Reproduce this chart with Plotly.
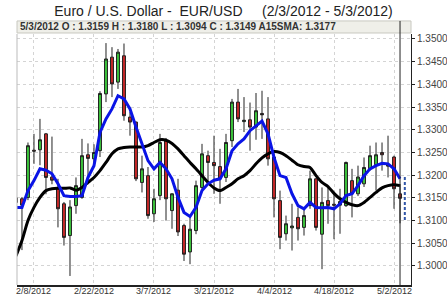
import plotly.graph_objects as go

dates = ["2/3/2012","2/6/2012","2/7/2012","2/8/2012","2/9/2012","2/10/2012",
 "2/13/2012","2/14/2012","2/15/2012","2/16/2012","2/17/2012",
 "2/20/2012","2/21/2012","2/22/2012","2/23/2012","2/24/2012",
 "2/27/2012","2/28/2012","2/29/2012","3/1/2012","3/2/2012",
 "3/5/2012","3/6/2012","3/7/2012","3/8/2012","3/9/2012",
 "3/12/2012","3/13/2012","3/14/2012","3/15/2012","3/16/2012",
 "3/19/2012","3/20/2012","3/21/2012","3/22/2012","3/23/2012",
 "3/26/2012","3/27/2012","3/28/2012","3/29/2012","3/30/2012",
 "4/2/2012","4/3/2012","4/4/2012","4/5/2012","4/6/2012",
 "4/9/2012","4/10/2012","4/11/2012","4/12/2012","4/13/2012",
 "4/16/2012","4/17/2012","4/18/2012","4/19/2012","4/20/2012",
 "4/23/2012","4/24/2012","4/25/2012","4/26/2012","4/27/2012",
 "4/30/2012","5/1/2012","5/2/2012","5/3/2012"]

open_ = [1.3150,1.3148,1.3151,1.3255,1.3256,1.3291,
         1.3196,1.3173,1.3137,1.3067,1.3133,
         1.3151,1.3245,1.3236,1.3254,1.3379,
         1.3460,1.3405,1.3463,1.3328,1.3317,
         1.3184,1.3199,1.3115,1.3155,1.3276,
         1.3122,1.3167,1.3089,1.3031,1.3078,
         1.3173,1.3243,1.3228,1.3219,1.3195,
         1.3276,1.3361,1.3318,1.3322,1.3306,
         1.3336,1.3324,1.3240,1.3144,1.3071,
         1.3084,1.3107,1.3085,1.3133,1.3192,
         1.3070,1.3144,1.3136,1.3134,1.3133,
         1.3188,1.3159,1.3181,1.3214,1.3223,
         1.3250,1.3223,1.3240,1.3159]
high = [1.3210,1.3152,1.3272,1.3291,1.3324,1.3293,
        1.3285,1.3192,1.3141,1.3145,1.3195,
        1.3280,1.3270,1.3268,1.3385,1.3491,
        1.3482,1.3478,1.3490,1.3339,1.3318,
        1.3243,1.3218,1.3170,1.3291,1.3282,
        1.3160,1.3192,1.3093,1.3111,1.3188,
        1.3269,1.3254,1.3287,1.3258,1.3291,
        1.3368,1.3390,1.3372,1.3360,1.3381,
        1.3386,1.3372,1.3250,1.3166,1.3111,
        1.3137,1.3129,1.3129,1.3210,1.3193,
        1.3173,1.3174,1.3160,1.3170,1.3230,
        1.3214,1.3221,1.3239,1.3265,1.3272,
        1.3272,1.3287,1.3243,1.3180]
low = [1.3075,1.3035,1.3145,1.3225,1.3222,1.3158,
       1.3180,1.3085,1.3045,1.2978,1.3115,
       1.3148,1.3180,1.3225,1.3240,1.3361,
       1.3372,1.3390,1.3320,1.3287,1.3187,
       1.3162,1.3104,1.3097,1.3145,1.3100,
       1.3082,1.3066,1.3011,1.3004,1.3070,
       1.3166,1.3184,1.3159,1.3137,1.3185,
       1.3262,1.3317,1.3295,1.3254,1.3278,
       1.3280,1.3221,1.3107,1.3037,1.3056,
       1.3034,1.3056,1.3067,1.3126,1.3078,
       1.2993,1.3093,1.3059,1.3071,1.3130,
       1.3107,1.3154,1.3174,1.3210,1.3166,
       1.3210,1.3195,1.3126,1.3094]
close = [1.3140,1.3134,1.3265,1.3253,1.3278,1.3195,
         1.3189,1.3126,1.3063,1.3130,1.3177,
         1.3243,1.3237,1.3250,1.3380,1.3456,
         1.3401,1.3471,1.3331,1.3317,1.3192,
         1.3214,1.3111,1.3148,1.3272,1.3148,
         1.3159,1.3075,1.3026,1.3081,1.3177,
         1.3247,1.3228,1.3221,1.3192,1.3272,
         1.3361,1.3324,1.3321,1.3306,1.3342,
         1.3333,1.3236,1.3148,1.3063,1.3093,
         1.3088,1.3082,1.3111,1.3192,1.3085,
         1.3140,1.3133,1.3134,1.3142,1.3228,
         1.3159,1.3196,1.3217,1.3243,1.3245,
         1.3245,1.3220,1.3170,1.3149]

blue_ma = [1.3129,1.3129,1.3166,1.3188,1.3214,1.3211,
           1.3203,1.3181,1.3155,1.3153,1.3153,
           1.3155,1.3195,1.3221,1.3294,1.3324,
           1.3346,1.3375,1.3368,1.3346,1.3306,
           1.3269,1.3232,1.3214,1.3228,1.3214,
           1.3192,1.3151,1.3118,1.3109,1.3129,
           1.3166,1.3181,1.3189,1.3192,1.3214,
           1.3254,1.3269,1.3280,1.3298,1.3309,
           1.3319,1.3291,1.3239,1.3199,1.3195,
           1.3159,1.3133,1.3126,1.3140,1.3129,
           1.3128,1.3129,1.3126,1.3137,1.3155,
           1.3159,1.3177,1.3199,1.3214,1.3221,
           1.3226,1.3225,1.3214,1.3192]
sma15 = [1.3022,1.3056,1.3100,1.3129,1.3151,1.3166,
         1.3170,1.3171,1.3171,1.3172,1.3167,
         1.3173,1.3184,1.3195,1.3210,1.3228,
         1.3247,1.3258,1.3261,1.3262,1.3262,
         1.3262,1.3265,1.3272,1.3278,1.3277,
         1.3270,1.3258,1.3243,1.3228,1.3214,
         1.3199,1.3184,1.3172,1.3166,1.3173,
         1.3181,1.3192,1.3199,1.3210,1.3225,
         1.3238,1.3247,1.3252,1.3250,1.3243,
         1.3233,1.3223,1.3219,1.3217,1.3199,
         1.3184,1.3175,1.3160,1.3148,1.3140,
         1.3135,1.3133,1.3140,1.3151,1.3162,
         1.3172,1.3177,1.3179,1.3177]

x_labels = ["2/8/2012","2/22/2012","3/7/2012","3/21/2012","4/4/2012","4/18/2012","5/2/2012"]
y_ticks = [1.3000,1.3050,1.3100,1.3150,1.3200,1.3250,1.3300,1.3350,1.3400,1.3450,1.3500]
last_range = [1.3196, 1.3099]

xs = list(range(len(dates)))
xtick_pos = [dates.index(d) for d in x_labels]
last = len(dates) - 1

fig = go.Figure()
fig.add_trace(go.Candlestick(
    x=xs, open=open_, high=high, low=low, close=close,
    increasing=dict(fillcolor="#3cc43c", line=dict(color="#222222", width=1)),
    decreasing=dict(fillcolor="#c62828", line=dict(color="#222222", width=1)),
    whiskerwidth=0, showlegend=False, hoverinfo="skip"))
fig.add_trace(go.Scatter(x=xs, y=sma15, mode="lines",
    line=dict(color="#000000", width=3, shape="spline", smoothing=0.6),
    showlegend=False, hoverinfo="skip"))
fig.add_trace(go.Scatter(x=xs, y=blue_ma, mode="lines",
    line=dict(color="#0a14e6", width=3),
    showlegend=False, hoverinfo="skip"))
fig.add_trace(go.Scatter(x=[last + 0.8, last + 0.8], y=last_range, mode="lines",
    line=dict(color="#2f55a8", width=2, dash="3px,2px"),
    showlegend=False, hoverinfo="skip"))

hdr = (f"<b>{dates[last]} O : {open_[last]:.4f} H : {high[last]:.4f} "
       f"L : {low[last]:.4f} C : {close[last]:.4f} A15SMA: {sma15[last]:.4f}</b>")

annots = [dict(text=hdr, xref="paper", yref="paper", x=0.003, y=1.028,
               xanchor="left", yanchor="middle", showarrow=False,
               font=dict(size=10, color="#333333"))]
for pos, lab in zip(xtick_pos, x_labels):
    annots.append(dict(text=lab, xref="x", yref="paper", x=pos, y=-11.5 / 251,
                       xanchor="center", yanchor="bottom", showarrow=False,
                       font=dict(size=9, color="#333333"), borderpad=0))

fig.update_layout(
    width=447, height=297,
    margin=dict(l=17, r=36, t=34, b=12, autoexpand=False),
    paper_bgcolor="white", plot_bgcolor="white",
    font=dict(family="Liberation Sans, Arial, sans-serif", color="#333333", size=10),
    title=dict(text="Euro / U.S. Dollar -&nbsp;&nbsp;EUR/USD&nbsp;&nbsp;&nbsp;&nbsp;&nbsp;(2/3/2012 - 5/3/2012)",
               x=0.5, xanchor="center", y=1 - 11 / 297, yanchor="middle",
               font=dict(size=14, color="#222222")),
    xaxis=dict(range=[0.17, 65.83], tickmode="array", tickvals=xtick_pos, ticktext=x_labels,
               showticklabels=False,
               showgrid=True, gridcolor="#d4d4d4", griddash="dot", gridwidth=1,
               showline=True, linecolor="#222222", linewidth=2, ticks="", zeroline=False,
               rangeslider=dict(visible=False), automargin=False),
    yaxis=dict(range=[1.29581, 1.3511], side="right", tickmode="array", tickvals=y_ticks,
               tickformat=".4f", showgrid=True, gridcolor="#d4d4d4", griddash="dot", gridwidth=1,
               showline=True, linecolor="#222222", linewidth=1, ticks="outside", ticklen=3,
               tickcolor="#222222", zeroline=False, automargin=False,
               tickfont=dict(size=10, color="#444444")),
    shapes=[
        dict(type="rect", xref="paper", yref="paper", x0=0, x1=1, y0=1.004, y1=1.052,
             fillcolor="#efefe9", line=dict(color="#c8c8c0", width=1), layer="below"),
        dict(type="line", xref="paper", yref="paper", x0=0, x1=0, y0=0, y1=1,
             line=dict(color="#bbbbbb", width=1)),
        dict(type="line", xref="x", yref="paper", x0=last, x1=last, y0=0, y1=1.052,
             line=dict(color="#222222", width=1)),
    ],
    annotations=annots,
)

fig.write_html("out.html")
